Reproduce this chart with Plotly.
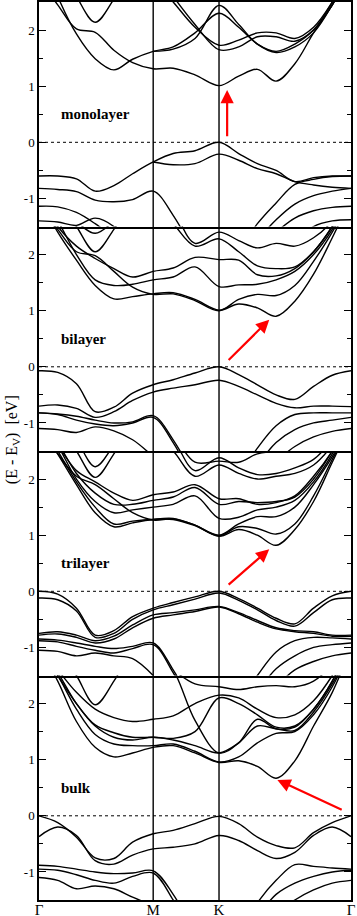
import plotly.graph_objects as go
from plotly.subplots import make_subplots

N = None

# k-path sample points (fraction of path Γ-M-K-Γ)
KPTS = [0, .06, .12, .18, .24, .30, .366, .43, .50, .577, .64, .70, .76, .82, .88, .94, 1.0]
KTICKS = [0, 0.366, 0.577, 1.0]
KLABELS = ["Γ", "M", "K", "Γ"]

PANELS = ["monolayer", "bilayer", "trilayer", "bulk"]

# energies (eV) at each k point
mono_bands = [
    [2.9, 2.45, 2.02, 1.96, 1.64, 1.42, 1.31, 1.32, 1.2, 1.01, 1.18, 1.3, 1.09, 1.4, 1.95, 2.45, 3.0],
    [3.5, 2.6, 1.93, 1.49, 1.29, 1.48, 1.62, 1.7, 1.95, 2.3, 2.05, 1.75, 1.62, 1.75, 2.0, 2.5, 3.2],
    [N, N, N, N, N, N, 1.62, 1.66, 1.85, 2.44, 2.1, 1.75, 1.6, 1.7, 1.95, 2.45, 3.1],
    [N, N, N, N, N, N, 2.9, 2.5, 2.05, 1.73, 1.82, 1.95, 1.95, 1.85, 2.05, 2.5, 3.1],
    [N, N, N, N, N, N, 3.1, 2.6, 2.1, 1.65, 1.7, 1.88, 1.88, 1.8, 2.0, 2.45, 3.1],
    [3.6, 3.2, 2.6, 2.14, 2.55, 3.1, 3.5, N, N, N, N, N, N, N, N, N, N],
    [-0.6, -0.6, -0.65, -0.87, -0.77, -0.56, -0.35, -0.2, -0.15, 0.0, -0.2, -0.38, -0.5, -0.7, -0.63, -0.6, -0.6],
    [-0.82, -0.84, -0.88, -1.03, -1.06, -1.02, -0.87, -1.3, -2.0, N, N, N, N, N, N, N, N],
    [N, N, N, N, N, N, -0.35, -0.4, -0.38, -0.21, -0.32, -0.47, -0.56, -0.7, -0.76, -0.8, -0.82],
    [N, N, N, N, N, N, N, N, N, -2.4, -1.95, -1.45, -1.08, -0.75, -0.66, -0.61, -0.6],
    [N, N, N, N, N, N, N, N, N, N, -2.2, -1.75, -1.38, -1.1, -0.95, -0.87, -0.82],
    [-1.14, -1.15, -1.25, -1.45, -1.7, N, N, N, N, N, N, -1.9, -1.6, -1.35, -1.22, -1.16, -1.14],
    [-1.4, -1.42, -1.48, -1.35, -1.5, -1.9, N, N, N, N, N, N, N, -1.8, -1.5, -1.4, -1.38],
]

bi_bands = [
    [3.0, 2.4, 1.9, 1.45, 1.21, 1.25, 1.3, 1.32, 1.2, 1.01, 1.12, 1.05, 0.9, 1.17, 1.65, 2.3, 3.0],
    [2.9, 2.45, 2.05, 1.98, 1.7, 1.42, 1.29, 1.3, 1.18, 1.0, 1.2, 1.29, 1.27, 1.45, 1.88, 2.4, 3.0],
    [3.1, 2.6, 2.0, 1.55, 1.45, 1.47, 1.55, 1.6, 1.78, 1.43, 1.46, 1.47, 1.55, 1.7, 2.0, 2.45, 3.1],
    [3.0, 2.5, 2.15, 1.93, 1.75, 1.6, 1.7, 1.76, 1.95, 1.91, 1.9, 1.64, 1.62, 1.75, 2.05, 2.5, 3.1],
    [N, N, N, N, N, N, 2.9, 2.55, 2.15, 2.28, 2.05, 1.8, 1.75, 1.78, 2.05, 2.5, 3.1],
    [N, N, N, N, N, N, 3.2, 2.8, 2.2, 2.4, 2.25, 2.12, 2.2, 2.15, 2.3, 2.6, 3.2],
    [3.5, 3.0, 2.5, 2.05, 2.45, 3.0, N, N, N, N, N, N, N, N, N, N, N],
    [3.5, 3.1, 2.6, 2.38, 2.6, 3.0, N, N, N, N, N, N, N, N, N, N, N],
    [-0.07, -0.1, -0.3, -0.8, -0.72, -0.47, -0.32, -0.23, -0.11, 0.0, -0.14, -0.32, -0.5, -0.58, -0.35, -0.15, -0.07],
    [-0.7, -0.68, -0.74, -0.9, -0.8, -0.6, -0.45, -0.38, -0.32, -0.24, -0.35, -0.5, -0.65, -0.73, -0.7, -0.7, -0.71],
    [-0.82, -0.84, -0.88, -0.95, -1.0, -0.98, -0.87, -1.3, -2.0, N, N, N, N, N, N, N, N],
    [-0.82, -0.85, -0.95, -1.02, -1.05, -1.0, -0.9, -1.35, -2.1, N, N, N, N, N, N, N, N],
    [-1.1, -1.12, -1.17, -1.07, -1.14, -1.3, -1.6, N, N, N, N, N, N, N, N, N, N],
    [N, N, N, N, N, N, N, N, N, -2.4, -1.95, -1.45, -1.05, -0.85, -0.82, -0.82, -0.82],
    [N, N, N, N, N, N, N, N, N, N, -2.2, -1.75, -1.35, -1.12, -1.0, -0.95, -0.9],
    [N, N, N, N, N, N, N, N, N, N, N, -2.1, -1.7, -1.42, -1.25, -1.15, -1.1],
]

tri_bands = [
    [3.0, 2.45, 1.9, 1.4, 1.15, 1.22, 1.28, 1.3, 1.18, 0.98, 1.1, 1.0, 0.82, 1.1, 1.6, 2.3, 3.0],
    [3.0, 2.5, 1.95, 1.5, 1.2, 1.25, 1.28, 1.28, 1.17, 0.99, 1.15, 1.12, 1.02, 1.2, 1.7, 2.35, 3.0],
    [2.9, 2.45, 2.05, 1.9, 1.65, 1.4, 1.27, 1.29, 1.18, 1.0, 1.2, 1.33, 1.33, 1.5, 1.9, 2.4, 3.0],
    [3.1, 2.6, 2.0, 1.6, 1.4, 1.45, 1.5, 1.55, 1.7, 1.3, 1.32, 1.45, 1.5, 1.62, 1.95, 2.45, 3.1],
    [3.1, 2.65, 2.1, 1.75, 1.55, 1.55, 1.62, 1.68, 1.85, 1.55, 1.6, 1.58, 1.6, 1.68, 2.0, 2.5, 3.1],
    [3.0, 2.6, 2.15, 1.95, 1.75, 1.62, 1.72, 1.77, 1.9, 1.65, 1.65, 1.55, 1.58, 1.7, 2.05, 2.5, 3.1],
    [N, N, N, N, N, N, 2.8, 2.5, 2.05, 2.25, 2.1, 2.0, 2.05, 2.1, 2.25, 2.6, 3.1],
    [N, N, N, N, N, N, 3.0, 2.7, 2.15, 2.38, 2.2, 2.08, 2.1, 2.2, 2.35, 2.7, 3.2],
    [N, N, N, N, N, N, 3.2, 2.8, 2.3, 2.32, 2.3, 2.45, 2.5, 2.6, 2.7, 2.9, 3.2],
    [3.5, 3.0, 2.5, 2.03, 2.45, 3.0, N, N, N, N, N, N, N, N, N, N, N],
    [3.5, 3.1, 2.7, 2.22, 2.6, 3.0, N, N, N, N, N, N, N, N, N, N, N],
    [0.0, -0.05, -0.3, -0.78, -0.7, -0.45, -0.3, -0.2, -0.1, 0.0, -0.13, -0.3, -0.48, -0.58, -0.3, -0.08, 0.0],
    [-0.12, -0.15, -0.35, -0.82, -0.75, -0.5, -0.33, -0.24, -0.14, -0.03, -0.16, -0.33, -0.52, -0.62, -0.38, -0.15, -0.12],
    [-0.75, -0.72, -0.78, -0.88, -0.8, -0.6, -0.42, -0.38, -0.33, -0.27, -0.38, -0.52, -0.65, -0.7, -0.72, -0.78, -0.78],
    [-0.78, -0.76, -0.82, -0.92, -0.85, -0.65, -0.48, -0.42, -0.36, -0.28, -0.4, -0.55, -0.67, -0.72, -0.75, -0.8, -0.8],
    [-0.85, -0.87, -0.92, -0.98, -1.02, -0.98, -0.92, -1.4, -2.1, N, N, N, N, N, N, N, N],
    [-0.88, -0.9, -0.98, -1.05, -1.1, -1.02, -0.95, -1.45, -2.2, N, N, N, N, N, N, N, N],
    [-1.05, -1.07, -1.15, -1.1, -1.15, -1.2, -1.5, N, N, N, N, N, N, N, N, N, N],
    [N, N, N, N, N, N, N, N, N, -2.5, -2.0, -1.5, -1.08, -0.88, -0.82, -0.83, -0.85],
    [N, N, N, N, N, N, N, N, N, N, -2.2, -1.78, -1.38, -1.15, -1.0, -0.95, -0.92],
    [N, N, N, N, N, N, N, N, N, N, N, -2.1, -1.7, -1.4, -1.25, -1.15, -1.1],
]

bulk_bands = [
    [3.0, 2.4, 1.68, 1.22, 1.05, 1.12, 1.22, 1.25, 1.12, 0.95, 0.98, 0.88, 0.67, 0.98, 1.6, 2.2, 3.0],
    [3.0, 2.5, 1.9, 1.45, 1.28, 1.25, 1.25, 1.28, 1.15, 0.96, 1.05, 1.3, 1.47, 1.5, 1.8, 2.3, 3.0],
    [3.0, 2.55, 2.0, 1.6, 1.4, 1.35, 1.4, 1.35, 1.25, 1.12, 1.3, 1.6, 1.55, 1.52, 1.85, 2.35, 3.0],
    [N, N, N, N, N, N, 3.0, 2.6, 1.7, 1.12, 1.3, 1.72, 1.55, 1.58, 1.9, 2.4, 3.1],
    [3.0, 2.6, 2.2, 1.9, 1.75, 1.68, 1.72, 1.78, 2.0, 2.15, 2.1, 1.9, 1.75, 1.8, 2.05, 2.5, 3.1],
    [3.0, 2.5, 2.0, 1.62, 1.48, 1.4, 1.4, 1.38, 1.5, 2.1, 2.0, 1.8, 1.58, 1.6, 1.9, 2.4, 3.1],
    [N, N, N, N, N, N, 2.9, 2.6, 2.35, 2.3, 2.25, 2.3, 2.32, 2.3, 2.4, 2.7, 3.2],
    [3.5, 3.0, 2.5, 1.98, 2.4, 3.0, N, N, N, N, N, N, N, N, N, N, N],
    [0.0, -0.12, -0.38, -0.75, -0.76, -0.47, -0.32, -0.26, -0.14, -0.01, -0.14, -0.38, -0.53, -0.57, -0.3, -0.12, 0.0],
    [-0.37, -0.2, -0.35, -0.8, -0.86, -0.7, -0.59, -0.56, -0.5, -0.35, -0.44, -0.62, -0.76, -0.65, -0.35, -0.2, -0.37],
    [-0.88, -0.9, -0.95, -1.0, -1.03, -1.02, -0.98, -1.4, -2.1, N, N, N, N, N, N, N, N],
    [-0.95, -0.97, -1.05, -1.15, -1.2, -1.08, -1.02, -1.5, -2.2, N, N, N, N, N, N, N, N],
    [-1.1, -1.15, -1.3, -1.25, -1.3, -1.45, -1.6, N, N, N, N, N, N, N, N, N, N],
    [N, N, N, N, N, N, N, N, N, N, -2.1, -1.55, -1.15, -0.87, -0.9, -0.93, -0.95],
    [N, N, N, N, N, N, N, N, N, N, -2.3, -1.8, -1.4, -1.2, -1.08, -1.0, -0.97],
    [N, N, N, N, N, N, N, N, N, N, N, -2.1, -1.75, -1.5, -1.32, -1.2, -1.15],
]

# red arrows: (tail k, tail E, head k, head E)
arrows = [
    (0.603, 0.08, 0.603, 0.93),
    (0.603, 0.095, 0.738, 0.84),
    (0.603, 0.095, 0.738, 0.75),
    (0.975, 0.095, 0.764, 0.64),
]

all_bands = [mono_bands, bi_bands, tri_bands, bulk_bands]

SERIF = "Liberation Serif"

fig = make_subplots(rows=4, cols=1, shared_xaxes=True, vertical_spacing=0)

for i, bands in enumerate(all_bands):
    row = i + 1
    for b in bands:
        fig.add_trace(go.Scatter(
            x=KPTS, y=b, mode="lines",
            line=dict(color="black", width=1.4, shape="spline", smoothing=1.0),
            showlegend=False, hoverinfo="skip",
        ), row=row, col=1)
    fig.add_hline(y=0, line=dict(color="black", width=1, dash="dot"), row=row, col=1)
    fig.add_annotation(
        x=0.064, y=0.5, text="<b>%s</b>" % PANELS[i], showarrow=False,
        xanchor="left", yanchor="middle",
        font=dict(family=SERIF, size=15, color="black"), row=row, col=1,
    )
    tx, ty, hx, hy = arrows[i]
    yref = "y" if row == 1 else "y%d" % row
    fig.add_annotation(
        x=hx, y=hy, ax=tx, ay=ty, xref="x", yref=yref, axref="x", ayref=yref,
        showarrow=True, arrowhead=2, arrowsize=1.2, arrowwidth=2.2,
        arrowcolor="red", text="",
    )
    fig.update_yaxes(
        range=[-1.5, 2.5], tickvals=[-1, 0, 1, 2], ticktext=["-1", "0", "1", "2"],
        ticks="inside", ticklen=7, tickwidth=1.3, tickcolor="black",
        minor=dict(tickvals=[-1.5, -0.5, 0.5, 1.5, 2.5], ticks="inside",
                   ticklen=4, tickwidth=1.1, tickcolor="black"),
        showline=True, linecolor="black", linewidth=1.5, mirror="ticks",
        showgrid=False, zeroline=False, automargin=False,
        tickfont=dict(family=SERIF, size=13, color="black"),
        row=row, col=1,
    )
    fig.update_xaxes(
        range=[0, 1], tickvals=KTICKS, ticktext=KLABELS, ticks="",
        showline=True, linecolor="black", linewidth=1.5, mirror=(row == 1),
        showgrid=False, zeroline=False, automargin=False,
        ticklabeloverflow="allow", ticklabelstandoff=-5,
        tickfont=dict(family=SERIF, size=15, color="black"),
        row=row, col=1,
    )

# vertical lines at M and K through all panels
for kx in KTICKS[1:3]:
    fig.add_shape(type="line", xref="x", yref="paper", x0=kx, x1=kx, y0=0, y1=1,
                  line=dict(color="black", width=1.4))

fig.add_annotation(
    x=-0.087, y=0.513, xref="paper", yref="paper", showarrow=False,
    xanchor="center", yanchor="middle",
    text="(E - E<sub>V</sub>)  [eV]", textangle=-90,
    font=dict(family=SERIF, size=16, color="black"),
)

fig.update_layout(
    width=357, height=916,
    margin=dict(l=39, r=6, t=2, b=16),
    paper_bgcolor="white", plot_bgcolor="white",
)

fig.write_html("out.html", config={"displayModeBar": False},
               post_script="document.body.style.margin='0px';")
